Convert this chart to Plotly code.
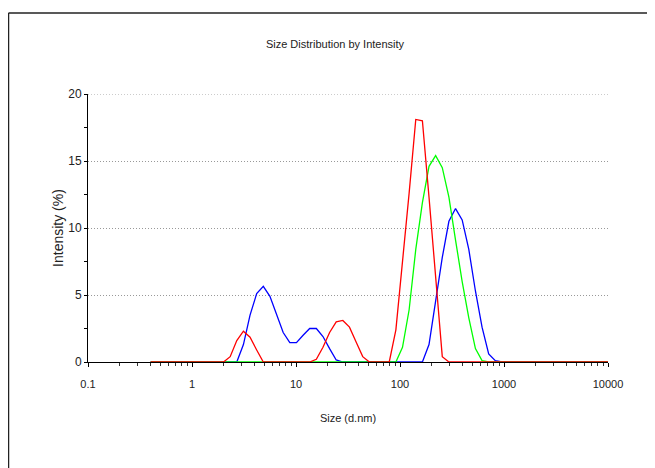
import plotly.graph_objects as go

# Zetasizer size bins (d.nm)
sizes = [0.4000, 0.4632, 0.5365, 0.6213, 0.7195, 0.8332, 0.9649, 1.117, 1.294, 1.499,
         1.736, 2.010, 2.328, 2.696, 3.122, 3.615, 4.187, 4.849, 5.615, 6.503,
         7.531, 8.721, 10.10, 11.70, 13.54, 15.69, 18.17, 21.04, 24.36, 28.21,
         32.67, 37.84, 43.82, 50.75, 58.77, 68.06, 78.82, 91.28, 105.7, 122.4,
         141.8, 164.2, 190.1, 220.2, 255.0, 295.3, 342.0, 396.1, 458.7, 531.2,
         615.1, 712.4, 825.0, 955.4, 1106, 1281, 1484, 1718, 1990, 2305,
         2669, 3091, 3580, 4145, 4801, 5560, 6439, 7456, 8635, 10000]

blue = [0]*14 + [1.3, 3.5, 5.1, 5.65, 4.9, 3.5, 2.2, 1.45, 1.45, 2.0,
                 2.5, 2.5, 1.9, 1.0, 0.15] + [0]*13 + \
       [1.3, 4.5, 7.8, 10.5, 11.45, 10.6, 8.4, 5.3, 2.6, 0.6, 0.1] + [0]*17

green = [0]*38 + [1.1, 3.9, 8.4, 11.9, 14.6, 15.4, 14.5, 12.3, 9.1, 6.0,
                  3.3, 1.0, 0.1] + [0]*19

red = [0]*12 + [0.4, 1.6, 2.3, 1.85, 0.9, 0] + [0]*7 + \
      [0.2, 1.1, 2.2, 3.0, 3.1, 2.6, 1.5, 0.4, 0] + [0]*3 + \
      [2.4, 7.4, 12.6, 18.1, 18.0, 12.3, 6.6, 0.4, 0] + [0]*24

x_tickvals = [0.1, 1, 10, 100, 1000, 10000]
x_ticktext = ["0.1", "1", "10", "100", "1000", "10000"]
y_tickvals = [0, 5, 10, 15, 20]
y_minor = [2.5, 7.5, 12.5, 17.5]
x_minor = [m * 10.0 ** e for e in range(-1, 4) for m in range(2, 10)]

FONT = "Liberation Sans, Arial, sans-serif"
TXT = "#222"
GRID_DASH = "1px,2px"

W, H = 647, 460  # page has an 8px body margin

fig = go.Figure()
for vals, col in [(blue, "#0000ff"), (green, "#00ff00"), (red, "#ff0000")]:
    fig.add_trace(go.Scatter(x=sizes, y=vals, mode="lines",
                             line=dict(color=col, width=1.3), showlegend=False,
                             hoverinfo="skip"))

fig.update_layout(
    width=W, height=H,
    margin=dict(l=80, r=W - 80 - 520, t=86, b=H - 86 - 268),
    paper_bgcolor="white", plot_bgcolor="white",
    font=dict(family=FONT, size=11, color=TXT),
    title=dict(text="Size Distribution by Intensity", x=327 / W, xref="container",
               y=1 - 36 / H, yref="container", yanchor="middle", xanchor="center",
               font=dict(family=FONT, size=11, color=TXT)),
    xaxis=dict(type="log", range=[-1, 4], showgrid=False, zeroline=False,
               showline=True, linecolor="black", linewidth=1,
               tickmode="array", tickvals=x_tickvals, ticktext=x_ticktext,
               ticks="outside", ticklen=4, tickcolor="black", tickwidth=1,
               ticklabelstandoff=8,
               minor=dict(tickmode="array", tickvals=x_minor, ticks="outside",
                          ticklen=3, tickcolor="#333", showgrid=False),
               tickfont=dict(family=FONT, size=11, color=TXT),
               title=dict(text="Size (d.nm)", standoff=25,
                          font=dict(family=FONT, size=11, color=TXT))),
    xaxis2=dict(type="log", range=[-1, 4], overlaying="x", anchor="y", side="bottom",
                showgrid=False, zeroline=False, showline=False, showticklabels=False,
                tickmode="array", tickvals=x_tickvals,
                ticks="inside", ticklen=2, tickcolor="black", tickwidth=1,
                minor=dict(tickmode="array", tickvals=x_minor, ticks="inside",
                           ticklen=2, tickcolor="#333", showgrid=False)),
    yaxis=dict(range=[0, 20], showgrid=True, griddash=GRID_DASH, gridcolor="#999",
               gridwidth=1, zeroline=False,
               showline=True, linecolor="black", linewidth=1,
               tickmode="array", tickvals=y_tickvals,
               ticks="outside", ticklen=3, tickcolor="black", tickwidth=1,
               minor=dict(tickmode="array", tickvals=y_minor, ticks="outside",
                          ticklen=3, tickcolor="black", showgrid=False),
               tickfont=dict(family=FONT, size=12, color=TXT),
               title=dict(text="Intensity (%)", standoff=1,
                          font=dict(family=FONT, size=14, color=TXT))),
    yaxis2=dict(range=[0, 20], overlaying="y", anchor="x", side="left",
                showgrid=False, zeroline=False, showline=False, showticklabels=False,
                tickmode="array", tickvals=y_tickvals,
                ticks="inside", ticklen=3, tickcolor="black", tickwidth=1,
                minor=dict(tickmode="array", tickvals=y_minor, ticks="inside",
                           ticklen=3, tickcolor="black", showgrid=False)),
)

# top gridline at the range edge (value 20)
fig.add_shape(type="line", xref="paper", yref="y", x0=0, x1=1, y0=y_tickvals[-1],
              y1=y_tickvals[-1], line=dict(color="#999", width=1, dash=GRID_DASH),
              layer="below")

# outer frame (left and top edges visible)
fx = (0.5 - 80) / 520
fy = (354 - 5) / 268
fig.add_shape(type="line", xref="paper", yref="paper", x0=fx, x1=fx, y0=fy, y1=-0.5,
              line=dict(color="#222", width=1.5))
fig.add_shape(type="line", xref="paper", yref="paper", x0=fx, x1=1.2, y0=fy, y1=fy,
              line=dict(color="#222", width=1.5))

fig.write_html("out.html")
